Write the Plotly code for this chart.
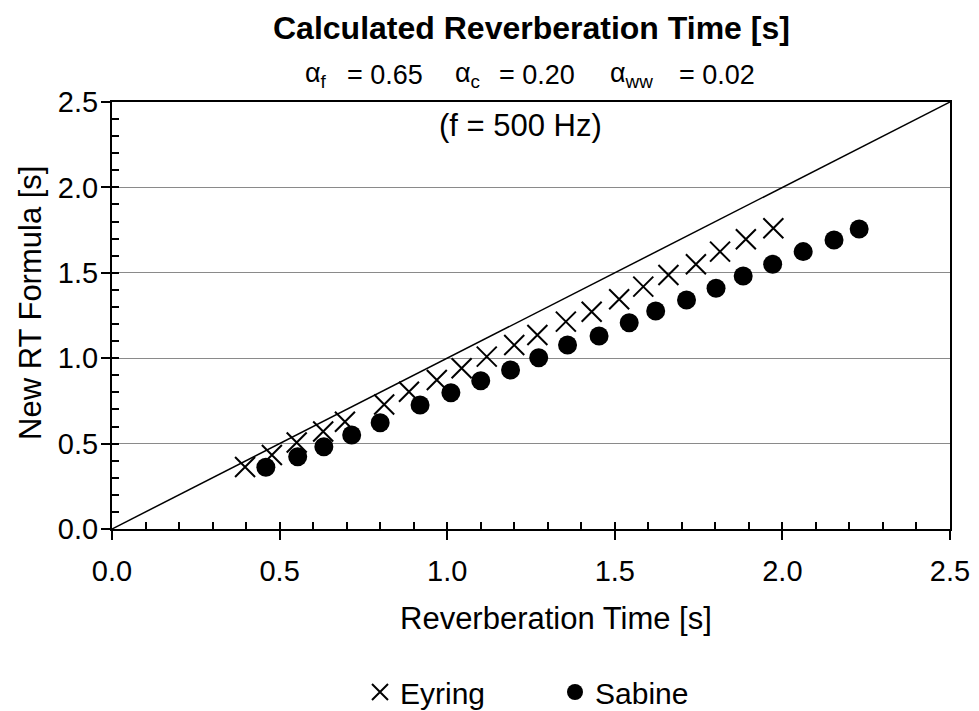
import plotly.graph_objects as go

# ---- data ----
eyring_x = [0.397, 0.477, 0.551, 0.630, 0.695, 0.812, 0.886, 0.969, 1.043, 1.118, 1.200,
            1.269, 1.354, 1.431, 1.513, 1.585, 1.660, 1.742, 1.814, 1.891, 1.973]
eyring_y = [0.363, 0.433, 0.506, 0.571, 0.628, 0.729, 0.804, 0.872, 0.941, 1.009, 1.077,
            1.136, 1.214, 1.272, 1.345, 1.419, 1.487, 1.550, 1.624, 1.696, 1.761]
sabine_x = [0.459, 0.554, 0.632, 0.715, 0.800, 0.919, 1.011, 1.100, 1.189, 1.273, 1.359,
            1.453, 1.543, 1.622, 1.714, 1.802, 1.883, 1.971, 2.062, 2.154, 2.229]
sabine_y = [0.361, 0.423, 0.482, 0.550, 0.622, 0.726, 0.798, 0.868, 0.931, 1.003, 1.077,
            1.130, 1.208, 1.276, 1.341, 1.409, 1.481, 1.550, 1.624, 1.692, 1.756]
diag = [0.0, 2.5]
axis_range = [0.0, 2.5]

FONT = "Liberation Sans, Arial, sans-serif"

fig = go.Figure()

fig.add_trace(go.Scatter(x=diag, y=diag, mode="lines",
                         line=dict(color="black", width=1.5),
                         showlegend=False, hoverinfo="skip"))
fig.add_trace(go.Scatter(x=eyring_x, y=eyring_y, mode="markers", name="Eyring",
                         marker=dict(symbol="x-thin", size=20, color="black",
                                     line=dict(color="black", width=2))))
fig.add_trace(go.Scatter(x=sabine_x, y=sabine_y, mode="markers", name="Sabine",
                         marker=dict(symbol="circle", size=19, color="black")))
# invisible traces on overlay axes used only to draw inner tick marks
fig.add_trace(go.Scatter(x=[None], y=[None], xaxis="x2", yaxis="y",
                         showlegend=False, hoverinfo="skip"))
fig.add_trace(go.Scatter(x=[None], y=[None], xaxis="x", yaxis="y2",
                         showlegend=False, hoverinfo="skip"))

L, R, T, B = 112, 29, 102, 182
W, H = 979, 711
pw, ph = W - L - R, H - T - B


def px(xp):
    return (xp - L) / pw


def py(yp):
    return (H - B - yp) / ph


common = dict(range=axis_range, showline=True, linecolor="black", linewidth=2,
              tickfont=dict(family=FONT, size=29, color="black"), zeroline=False)

fig.update_layout(
    width=W, height=H,
    margin=dict(l=L, r=R, t=T, b=B, autoexpand=False),
    paper_bgcolor="white", plot_bgcolor="white",
    font=dict(family=FONT, color="black"),
    xaxis=dict(**common, dtick=0.5, tick0=0, tickformat=".1f", ticks="outside",
               ticklen=9, tickwidth=2, tickcolor="black", mirror=True, showgrid=False,
               ticklabelstandoff=6),
    yaxis=dict(**common, dtick=0.5, tick0=0, tickformat=".1f", ticks="outside",
               ticklen=9, tickwidth=2, tickcolor="black", mirror=True, showgrid=True,
               gridcolor="#8a8a8a", gridwidth=1, ticklabelstandoff=-3),
    xaxis2=dict(range=axis_range, overlaying="x", anchor="y", side="bottom",
                dtick=0.1, tick0=0, ticks="inside", ticklen=7, tickwidth=2,
                tickcolor="black", showticklabels=False, showgrid=False,
                showline=False, zeroline=False),
    yaxis2=dict(range=axis_range, overlaying="y", anchor="x", side="left",
                dtick=0.1, tick0=0, ticks="inside", ticklen=7, tickwidth=2,
                tickcolor="black", showticklabels=False, showgrid=False,
                showline=False, zeroline=False),
    showlegend=True,
    legend=dict(orientation="h", x=px(555), xanchor="center", y=py(692), yanchor="middle",
                font=dict(family=FONT, size=30, color="black"),
                bgcolor="rgba(0,0,0,0)", entrywidth=150, itemsizing="trace"),
)

ann = []
ann.append(dict(text="<b>Calculated Reverberation Time [s]</b>", x=px(531), y=py(28),
                font=dict(size=32)))
ann.append(dict(text="Reverberation Time [s]", x=px(556), y=py(618), font=dict(size=31)))
ann.append(dict(text="New RT Formula [s]", x=px(30), y=py(303), textangle=-90,
                font=dict(size=31)))
ann.append(dict(text="(f = 500 Hz)", x=px(520), y=py(126), font=dict(size=31)))
# subtitle pieces
sub_parts = [("α<sub>f</sub>", 303), ("= 0.65", 345),
             ("α<sub>c</sub>", 453), ("= 0.20", 497),
             ("α<sub>ww</sub>", 608), ("= 0.02", 677)]
for txt, xl in sub_parts:
    ann.append(dict(text=txt, x=px(xl), y=py(75), xanchor="left", font=dict(size=27)))

for a in ann:
    a.setdefault("xanchor", "center")
    a.update(xref="paper", yref="paper", showarrow=False, yanchor="middle")
    a["font"] = dict(family=FONT, color="black", **a["font"])
fig.update_layout(annotations=ann)

fig.write_html("out.html")
